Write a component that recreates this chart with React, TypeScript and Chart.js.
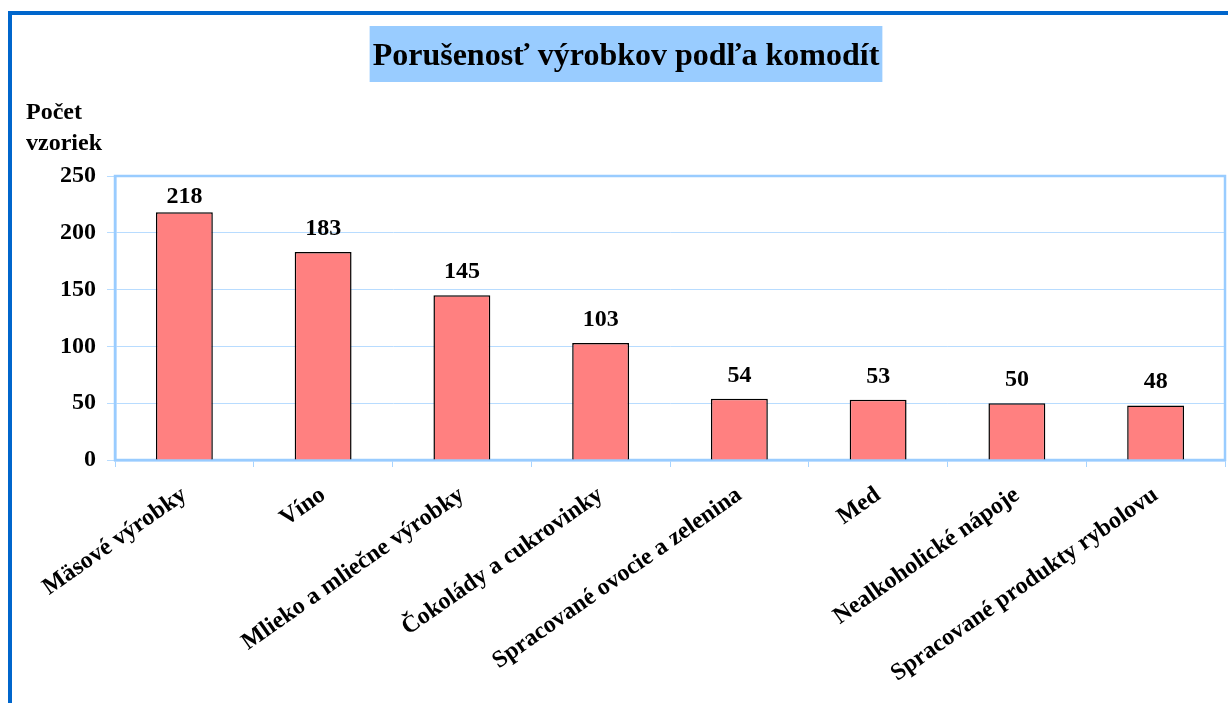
import React, { useEffect, useRef } from "react";
import { Chart, registerables } from "chart.js";

Chart.register(...registerables);

const categories = [
  "Mäsové výrobky",
  "Víno",
  "Mlieko a mliečne výrobky",
  "Čokolády a cukrovinky",
  "Spracované ovocie a zelenina",
  "Med",
  "Nealkoholické nápoje",
  "Spracované produkty rybolovu",
];
const values = [218, 183, 145, 103, 54, 53, 50, 48];
const yMin = 0;
const yMax = 250;
const yStep = 50;
const titleText = "Porušenosť výrobkov podľa komodít";
const yAxisTitle = ["Počet", "vzoriek"];

const FONT = '"Liberation Serif", "Times New Roman", serif';

const decor = {
  id: "decor",
  beforeDraw(chart: any) {
    const ctx = chart.ctx;
    ctx.save();
    ctx.fillStyle = "#ffffff";
    ctx.fillRect(0, 0, chart.width, chart.height);
    ctx.strokeStyle = "#0066CC";
    ctx.lineWidth = 4;
    ctx.strokeRect(10, 13, chart.width + 40, chart.height + 40);
    ctx.font = `bold 32px ${FONT}`;
    const w = ctx.measureText(titleText).width;
    const cx = 626;
    ctx.fillStyle = "#99CCFF";
    ctx.fillRect(cx - w / 2 - 3, 26, w + 6, 56);
    ctx.fillStyle = "#000";
    ctx.textAlign = "center";
    ctx.textBaseline = "alphabetic";
    ctx.fillText(titleText, cx, 65);
    ctx.font = `bold 24px ${FONT}`;
    ctx.textAlign = "left";
    ctx.fillText(yAxisTitle[0], 26, 119);
    ctx.fillText(yAxisTitle[1], 26, 150);
    ctx.restore();
  },
  beforeDatasetsDraw(chart: any) {
    const ctx = chart.ctx;
    const { left, top, right, bottom } = chart.chartArea;
    ctx.save();
    ctx.strokeStyle = "#99CCFF";
    ctx.lineWidth = 2.5;
    ctx.strokeRect(left, top, right - left, bottom - top);
    ctx.restore();
  },
  afterDatasetsDraw(chart: any) {
    const ctx = chart.ctx;
    const meta = chart.getDatasetMeta(0);
    const top = chart.chartArea.top;
    ctx.save();
    ctx.font = `bold 24px ${FONT}`;
    ctx.fillStyle = "#000";
    ctx.textAlign = "center";
    ctx.textBaseline = "alphabetic";
    meta.data.forEach((bar: any, i: number) => {
      const y = Math.max(bar.y - 17, top + 27);
      ctx.fillText(String(values[i]), bar.x, y);
    });
    ctx.restore();
  },
};

export default function App() {
  const ref = useRef<HTMLCanvasElement>(null);
  useEffect(() => {
    if (!ref.current) return;
    const chart = new Chart(ref.current, {
      type: "bar",
      data: {
        labels: categories,
        datasets: [
          {
            data: values,
            backgroundColor: "#FF8080",
            borderColor: "#000000",
            borderWidth: 1.5,
            categoryPercentage: 1,
            barPercentage: 0.41,
          },
        ],
      },
      options: {
        responsive: false,
        animation: false,
        layout: { padding: { top: 176, right: 3, left: 0, bottom: 0 } },
        plugins: {
          legend: { display: false },
          title: { display: false },
          tooltip: { enabled: false },
        },
        scales: {
          x: {
            offset: true,
            grid: {
              offset: true,
              drawOnChartArea: false,
              drawTicks: true,
              tickLength: 7,
              color: "#A8D4FF",
            },
            border: { color: "#99CCFF", width: 2.5 },
            ticks: {
              autoSkip: false,
              minRotation: 35,
              maxRotation: 35,
              color: "#000",
              padding: 14,
              font: { family: FONT, size: 24, weight: "bold" },
            },
            afterFit: (s: any) => {
              s.height = 243;
            },
          },
          y: {
            min: yMin,
            max: yMax,
            grid: { color: "#B8DCFF", tickLength: 8, lineWidth: 1 },
            border: { color: "#99CCFF", width: 2.5 },
            ticks: {
              stepSize: yStep,
              color: "#000",
              padding: 11,
              font: { family: FONT, size: 24, weight: "bold" },
            },
            afterFit: (s: any) => {
              s.width = 115;
            },
          },
        },
      },
      plugins: [decor],
    });
    return () => chart.destroy();
  }, []);
  return (
    <div style={{ position: "absolute", left: 0, top: 0, width: 1228, height: 703 }}>
      <canvas ref={ref} width={1228} height={703} />
    </div>
  );
}
